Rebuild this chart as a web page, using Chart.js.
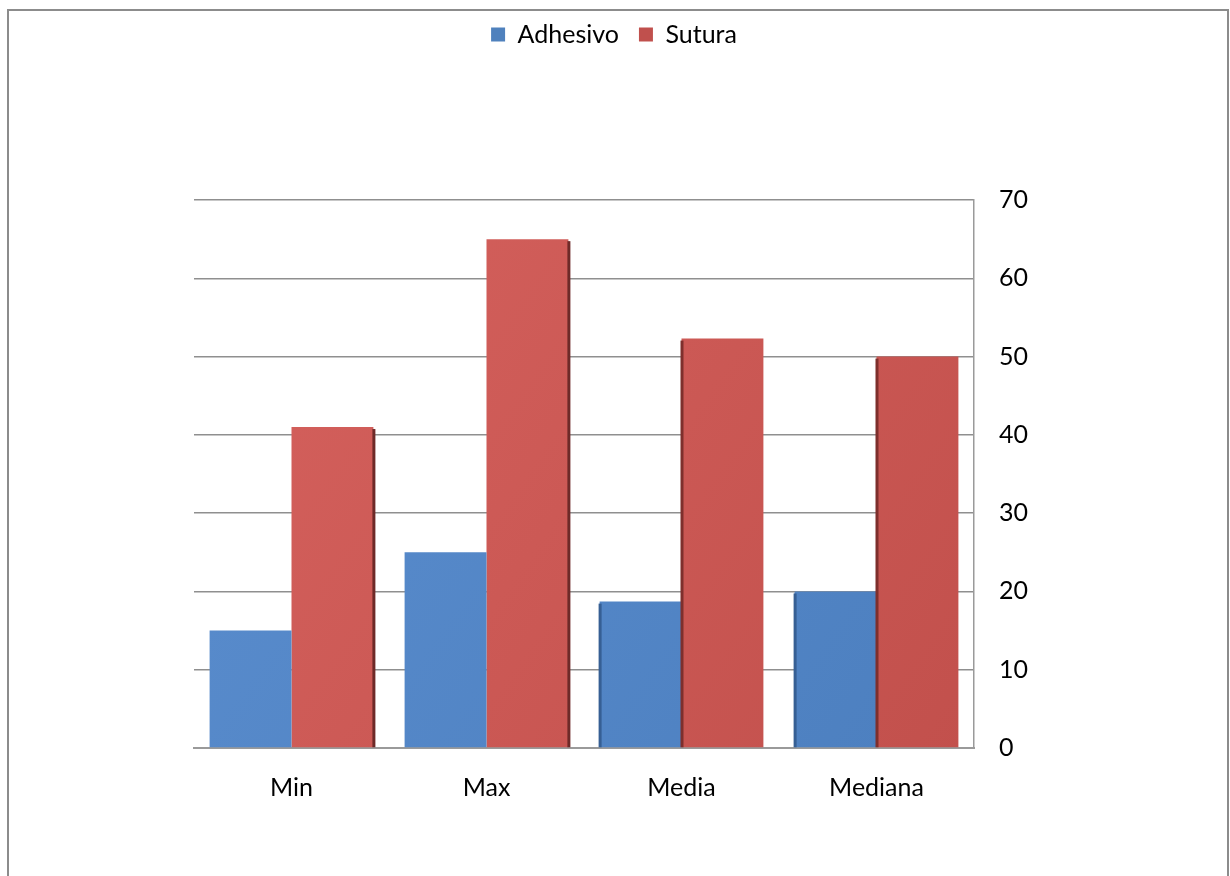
<!DOCTYPE html>
<html>
<head>
<meta charset="utf-8">
<script src="https://cdn.jsdelivr.net/npm/chart.js@4.4.1/dist/chart.umd.min.js"></script>
<style>
  html, body { margin: 0; padding: 0; background: #ffffff; }
  #wrap { position: relative; width: 1230px; height: 876px; }
  canvas { display: block; }
</style>
</head>
<body>
<div id="wrap"><canvas id="c" width="1230" height="876"></canvas></div>
<script>
// Wound closure time by technique
const categories = ['Min', 'Max', 'Media', 'Mediana'];
const adhesivo = [15, 25, 18.7, 20];
const sutura = [41, 65, 52.3, 50];
const yTicks = [0, 10, 20, 30, 40, 50, 60, 70];

const FONT = "Lato, 'Open Sans', 'DejaVu Sans', sans-serif";
const FONT_SIZE = 25;
const TOP_PAD = 2;
const PLOT_TOP = 200;

function diagGradient(ctx, area, c0, c1) {
  if (!area) return c0;
  const g = ctx.createLinearGradient(area.left, area.top, area.right, area.bottom);
  g.addColorStop(0, c0);
  g.addColorStop(1, c1);
  return g;
}

// Frame around the whole chart
const framePlugin = {
  id: 'frame',
  beforeDraw(chart) {
    const ctx = chart.ctx;
    ctx.save();
    ctx.strokeStyle = '#8c8c8c';
    ctx.lineWidth = 2;
    ctx.strokeRect(8, 10, chart.width - 10, chart.height + 20);
    ctx.restore();
  }
};

// Fixed legend band height so the plot sits lower on the page
const legendBand = {
  id: 'legendBand',
  beforeUpdate(chart) {
    const lg = chart.legend;
    if (lg && !lg._bandWrapped) {
      const orig = lg.fit;
      lg.fit = function () { orig.call(this); this.height = PLOT_TOP - TOP_PAD; };
      lg._bandWrapped = true;
    }
  }
};

// Thin side faces giving the columns a bit of depth
const sideFaces = {
  id: 'sideFaces',
  afterDatasetsDraw(chart) {
    const ctx = chart.ctx;
    const n = categories.length;
    chart.data.datasets.forEach((ds, di) => {
      const meta = chart.getDatasetMeta(di);
      meta.data.forEach((bar, i) => {
        const { x, y, base, width } = bar.getProps(['x', 'y', 'base', 'width'], true);
        const left = x - width / 2, right = x + width / 2;
        ctx.save();
        if (i < n / 2) {
          if (di === 1) {
            ctx.fillStyle = '#6e2a28';
            ctx.fillRect(right - 1, y + 2, 3, base - y - 2);
          }
        } else {
          ctx.fillStyle = di === 0 ? '#365f94' : '#7e2f2c';
          ctx.fillRect(left - 1, y + 2, 3, base - y - 2);
        }
        ctx.restore();
      });
    });
  }
};

new Chart(document.getElementById('c'), {
  type: 'bar',
  data: {
    labels: categories,
    datasets: [
      {
        label: 'Adhesivo',
        data: adhesivo,
        backgroundColor: (c) => diagGradient(c.chart.ctx, c.chart.chartArea, '#5b8ecf', '#4c7fbf'),
        borderWidth: 0,
        categoryPercentage: 0.84,
        barPercentage: 1.0
      },
      {
        label: 'Sutura',
        data: sutura,
        backgroundColor: (c) => diagGradient(c.chart.ctx, c.chart.chartArea, '#d6625e', '#c2504c'),
        borderWidth: 0,
        categoryPercentage: 0.84,
        barPercentage: 1.0
      }
    ]
  },
  options: {
    responsive: false,
    animation: false,
    devicePixelRatio: 1,
    layout: { padding: { top: TOP_PAD, left: 194, right: 196, bottom: 68 } },
    plugins: {
      legend: {
        position: 'top',
        labels: {
          font: { family: FONT, size: FONT_SIZE },
          color: '#000000',
          boxWidth: 14,
          boxHeight: 14,
          padding: 20,
          generateLabels(chart) {
            return chart.data.datasets.map((ds, i) => ({
              text: ds.label,
              fillStyle: i === 0 ? '#4f81bd' : '#c0504d',
              strokeStyle: i === 0 ? '#4f81bd' : '#c0504d',
              lineWidth: 0,
              hidden: false,
              datasetIndex: i
            }));
          }
        }
      },
      tooltip: { enabled: false }
    },
    scales: {
      x: {
        grid: { display: false, drawTicks: false },
        border: { display: true, color: '#9a9a9a', width: 2 },
        ticks: { font: { family: FONT, size: FONT_SIZE }, color: '#000000', padding: 25 },
        afterFit(s) { s.height = 60; }
      },
      y: {
        position: 'right',
        min: 0,
        max: 70,
        afterBuildTicks(s) { s.ticks = yTicks.map(v => ({ value: v })); },
        grid: { color: '#8f8f8f', lineWidth: 1.5, drawTicks: false },
        border: { display: true, color: '#9a9a9a', width: 1.5 },
        ticks: { font: { family: FONT, size: FONT_SIZE }, color: '#000000', padding: 25 },
        afterFit(s) { s.width = 60; }
      }
    }
  },
  plugins: [framePlugin, legendBand, sideFaces]
});
</script>
</body>
</html>
